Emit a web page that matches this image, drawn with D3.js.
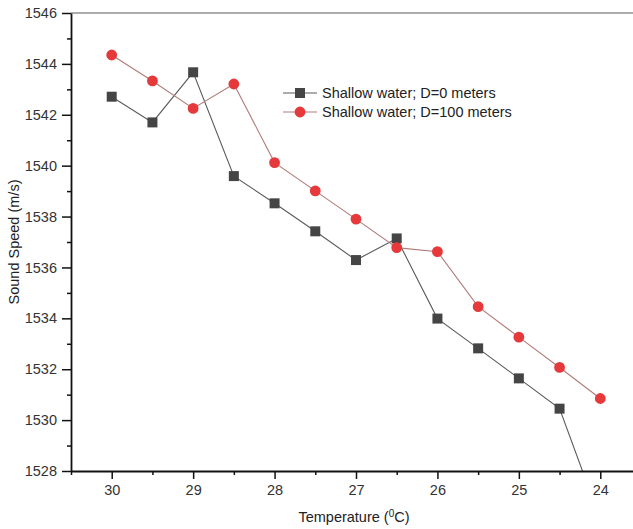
<!DOCTYPE html>
<html>
<head>
<meta charset="utf-8">
<script src="https://cdn.jsdelivr.net/npm/d3@7"></script>
<style>
    body { margin: 0; background: #fff; }
    svg { display: block; font-family: "Liberation Sans", Arial, sans-serif; }
</style>
</head>
<body>
<div id="chart"></div>
<script>
// DATA ----------------------------------------------
const temps = [30, 29.5, 29, 28.5, 28, 27.5, 27, 26.5, 26, 25.5, 25, 24.5, 24];
const speedD0 = [1542.71, 1541.70, 1543.67, 1539.59, 1538.52, 1537.42, 1536.29, 1537.14, 1533.99, 1532.82, 1531.64, 1530.45, 1526.1];
const speedD100 = [1544.35, 1543.33, 1542.25, 1543.21, 1540.12, 1539.01, 1537.90, 1536.78, 1536.62, 1534.46, 1533.26, 1532.07, 1530.85];
const seriesNames = ["Shallow water; D=0 meters", "Shallow water; D=100 meters"];
const xMajorTicks = [30, 29, 28, 27, 26, 25, 24];
const yMajorTicks = [1528, 1530, 1532, 1534, 1536, 1538, 1540, 1542, 1544, 1546];

// Set the dimensions
var width = 633, height = 529;
var plot = {left: 71, right: 641, top: 13, bottom: 471};

var svg = d3.select("#chart")
    .append("svg")
        .attr("width", width)
        .attr("height", height);

// Scales (x is reversed: hot on the left)
var x = d3.scaleLinear().domain([30.5, 23.5]).range([plot.left, plot.right]);
var y = d3.scaleLinear().domain([1528, 1546]).range([plot.bottom, plot.top]);

// Clip so the last D=0 point falls out of the frame
svg.append("clipPath")
    .attr("id", "plotClip")
  .append("rect")
    .attr("x", plot.left)
    .attr("y", plot.top)
    .attr("width", plot.right - plot.left)
    .attr("height", plot.bottom - plot.top);

// Top frame line (grey)
svg.append("line")
    .attr("x1", plot.left).attr("x2", plot.right)
    .attr("y1", plot.top).attr("y2", plot.top)
    .attr("stroke", "#919191")
    .attr("stroke-width", 1.6);

// ****************** Series ***************************
var series = [
    {name: seriesNames[0], values: speedD0, line: "#5a5a5a", fill: "#454545", shape: "square"},
    {name: seriesNames[1], values: speedD100, line: "#b07c7a", fill: "#e5393b", shape: "circle"}
];

var lineGen = d3.line()
    .x((d, i) => x(temps[i]))
    .y((d) => y(d));

var gData = svg.append("g").attr("clip-path", "url(#plotClip)");

series.forEach((s) => {
    gData.append("path")
        .datum(s.values)
        .attr("fill", "none")
        .attr("stroke", s.line)
        .attr("stroke-width", 1.1)
        .attr("d", lineGen);
});

series.forEach((s) => {
    var sym = d3.symbol()
        .type(s.shape == "square" ? d3.symbolSquare : d3.symbolCircle)
        .size(s.shape == "square" ? 100 : 92);
    gData.selectAll(null)
        .data(s.values)
        .enter()
        .append("path")
        .attr("transform", (d, i) => `translate(${x(temps[i])},${y(d)})`)
        .attr("d", sym)
        .attr("fill", s.fill);
});

// ****************** Axes ***************************
var xMinor = d3.range(30.5, 23.4, -0.5).filter((t) => t % 1 != 0);
var yMinor = d3.range(1529, 1546, 2);

svg.append("g")
    .attr("transform", `translate(0,${plot.bottom})`)
    .call(d3.axisBottom(x).tickValues(xMajorTicks).tickFormat(d3.format("d"))
        .tickSizeInner(8).tickSizeOuter(0).tickPadding(6));
svg.append("g")
    .attr("transform", `translate(0,${plot.bottom})`)
    .call(d3.axisBottom(x).tickValues(xMinor).tickFormat("").tickSizeInner(4).tickSizeOuter(0))
    .select(".domain").remove();

svg.append("g")
    .attr("transform", `translate(${plot.left},0)`)
    .call(d3.axisLeft(y).tickValues(yMajorTicks).tickFormat(d3.format("d"))
        .tickSizeInner(9).tickSizeOuter(0).tickPadding(5));
svg.append("g")
    .attr("transform", `translate(${plot.left},0)`)
    .call(d3.axisLeft(y).tickValues(yMinor).tickFormat("").tickSizeInner(4).tickSizeOuter(0))
    .select(".domain").remove();

svg.selectAll(".domain").attr("stroke", "#111").attr("stroke-width", 1.8);
svg.selectAll(".tick line").attr("stroke", "#111").attr("stroke-width", 1.5);
svg.selectAll(".tick text")
    .attr("font-size", "14.5px")
    .attr("font-family", "'Liberation Sans', Arial, sans-serif")
    .attr("fill", "#333");

// Axis titles
svg.append("text")
    .attr("x", (plot.left + plot.right) / 2 - 2)
    .attr("y", 522)
    .attr("text-anchor", "middle")
    .attr("font-size", "14.5px")
    .attr("fill", "#222")
    .text("Temperature (")
    .append("tspan").attr("baseline-shift", "super").attr("font-size", "10px").text("0")
    .select(function() { return this.parentNode; })
    .append("tspan").text("C)");

svg.append("text")
    .attr("transform", `translate(19,${(plot.top + plot.bottom) / 2}) rotate(-90)`)
    .attr("text-anchor", "middle")
    .attr("font-size", "14.5px")
    .attr("fill", "#222")
    .text("Sound Speed (m/s)");

// ****************** Legend ***************************
var legend = svg.append("g").attr("transform", "translate(283,93)");
series.forEach((s, i) => {
    var row = legend.append("g").attr("transform", `translate(0,${i * 19})`);
    row.append("line")
        .attr("x1", 0).attr("x2", 34)
        .attr("stroke", s.line)
        .attr("stroke-width", 1.1);
    row.append("path")
        .attr("transform", "translate(17,0)")
        .attr("d", d3.symbol()
            .type(s.shape == "square" ? d3.symbolSquare : d3.symbolCircle)
            .size(s.shape == "square" ? 100 : 92))
        .attr("fill", s.fill);
    row.append("text")
        .attr("x", 39)
        .attr("y", 5)
        .attr("font-size", "14.5px")
        .attr("fill", "#222")
        .text(s.name);
});
</script>
</body>
</html>
